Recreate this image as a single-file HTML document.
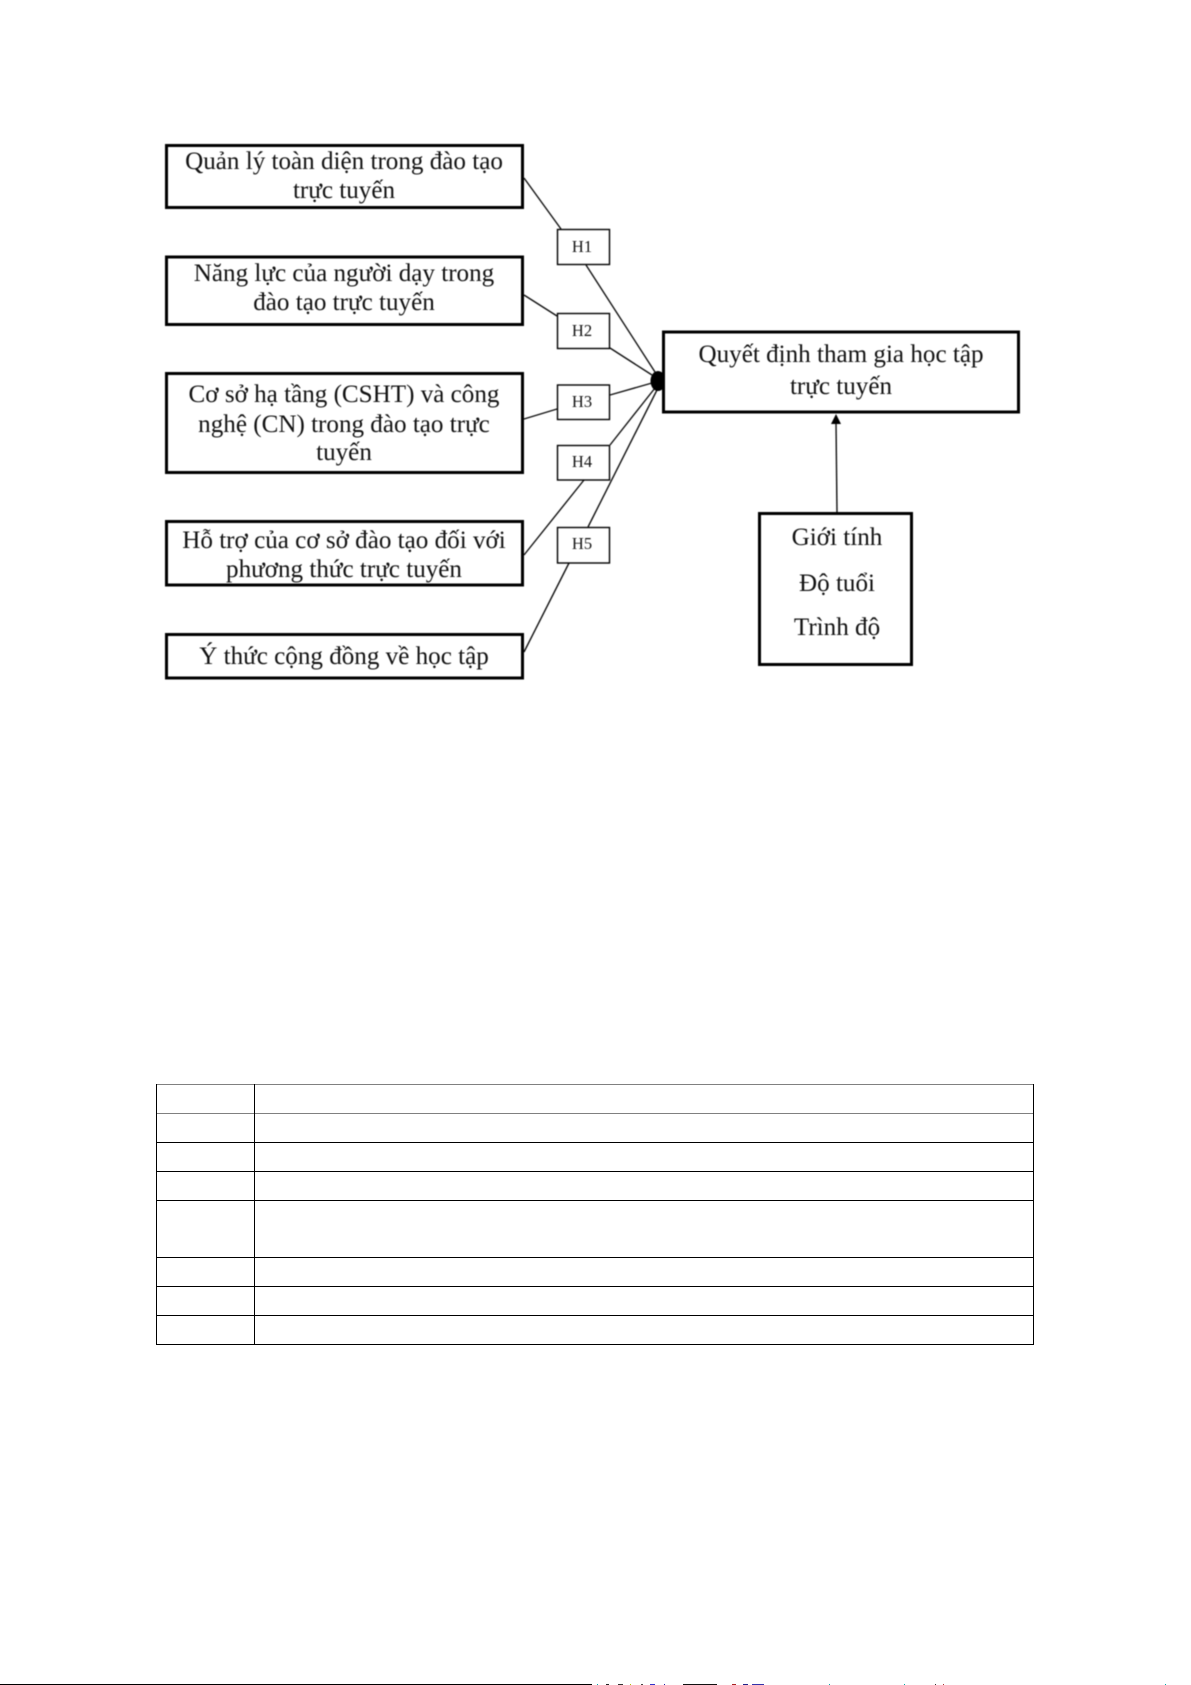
<!DOCTYPE html>
<html lang="vi">
<head>
<meta charset="utf-8">
<title>Mô hình nghiên cứu</title>
<style>
html,body{margin:0;padding:0;background:#fff;width:1191px;height:1685px;overflow:hidden}
svg{display:block;position:absolute;left:0;top:0}
.d{filter:blur(.65px)}
text{font-family:"Liberation Serif","Noto Serif CJK SC",serif;fill:#111;text-anchor:middle}
.t{font-size:25.1px}
.h{font-size:16.5px}
.b{fill:#fff;stroke:#000;stroke-width:3}
.s{fill:#fff;stroke:#000;stroke-width:1.4}
.l{stroke:#111;stroke-width:1.4;fill:none}
</style>
</head>
<body>
<svg width="1191" height="1685" viewBox="0 0 1191 1685" xmlns="http://www.w3.org/2000/svg">
<g class="d">
<line class="l" x1="524" y1="178" x2="561" y2="229"/>
<line class="l" x1="586" y1="265" x2="655" y2="372"/>
<line class="l" x1="524" y1="295" x2="557" y2="316"/>
<line class="l" x1="610" y1="348" x2="652" y2="375"/>
<line class="l" x1="524" y1="419" x2="557" y2="409"/>
<line class="l" x1="610" y1="395" x2="652" y2="383"/>
<line class="l" x1="610" y1="445" x2="655" y2="388"/>
<line class="l" x1="584" y1="480" x2="524" y2="555"/>
<line class="l" x1="588" y1="527" x2="657" y2="390"/>
<line class="l" x1="569" y1="563" x2="524" y2="652"/>
<line class="l" x1="837" y1="512" x2="836" y2="422"/>
<polygon points="836,414 831,424 841,424" fill="#000"/>
<ellipse cx="658" cy="381" rx="7.5" ry="10" fill="#000"/>

<rect class="b" x="166.500" y="145.500" width="356" height="62"/>
<rect class="b" x="166.500" y="257" width="356" height="67.500"/>
<rect class="b" x="166.500" y="373.500" width="356" height="99"/>
<rect class="b" x="166.500" y="521.500" width="356" height="63.500"/>
<rect class="b" x="166.500" y="634.500" width="356" height="43.500"/>
<rect class="b" x="663.500" y="332" width="355" height="80"/>
<rect class="b" x="759.500" y="513.500" width="152" height="151"/>

<rect class="s" x="557.500" y="229.500" width="52" height="35"/>
<rect class="s" x="557.500" y="313.500" width="52" height="35"/>
<rect class="s" x="557.500" y="385" width="52" height="34.500"/>
<rect class="s" x="557.500" y="445.500" width="52" height="34.500"/>
<rect class="s" x="557.500" y="527.500" width="52" height="35.500"/>

<text class="t" x="344" y="169">Quản lý toàn diện trong đào tạo</text>
<text class="t" x="344" y="198">trực tuyến</text>
<text class="t" x="344" y="281">Năng lực của người dạy trong</text>
<text class="t" x="344" y="310">đào tạo trực tuyến</text>
<text class="t" x="344" y="402">Cơ sở hạ tầng (CSHT) và công</text>
<text class="t" x="344" y="432">nghệ (CN) trong đào tạo trực</text>
<text class="t" x="344" y="460">tuyến</text>
<text class="t" x="344" y="548">Hỗ trợ của cơ sở đào tạo đối với</text>
<text class="t" x="344" y="577">phương thức trực tuyến</text>
<text class="t" x="344" y="664">Ý thức cộng đồng về học tập</text>
<text class="t" x="841" y="362">Quyết định tham gia học tập</text>
<text class="t" x="841" y="394">trực tuyến</text>
<text class="t" x="837" y="545">Giới tính</text>
<text class="t" x="837" y="591">Độ tuổi</text>
<text class="t" x="837" y="635">Trình độ</text>

<text class="h" x="582" y="252">H1</text>
<text class="h" x="582" y="336">H2</text>
<text class="h" x="582" y="407">H3</text>
<text class="h" x="582" y="467">H4</text>
<text class="h" x="582" y="549">H5</text>
</g>

<g shape-rendering="crispEdges">
<rect x="156" y="1084" width="878" height="1" fill="#808080"/>
<rect x="156" y="1113" width="878" height="1" fill="#808080"/>
<rect x="156" y="1142" width="878" height="1" fill="#000"/>
<rect x="156" y="1171" width="878" height="1" fill="#000"/>
<rect x="156" y="1200" width="878" height="1" fill="#000"/>
<rect x="156" y="1257" width="878" height="1" fill="#000"/>
<rect x="156" y="1286" width="878" height="1" fill="#000"/>
<rect x="156" y="1315" width="878" height="1" fill="#000"/>
<rect x="156" y="1344" width="878" height="1" fill="#000"/>
<rect x="156" y="1084" width="1" height="261" fill="#000"/>
<rect x="254" y="1084" width="1" height="261" fill="#000"/>
<rect x="1033" y="1084" width="1" height="261" fill="#000"/>

<rect x="0" y="1684" width="592" height="1" fill="#000"/>
<rect x="597" y="1684" width="1" height="1" fill="#0aa"/>
<rect x="606" y="1684" width="3" height="1" fill="#222"/>
<rect x="618" y="1684" width="5" height="1" fill="#333"/>
<rect x="630" y="1684" width="1" height="1" fill="#bb0"/>
<rect x="641" y="1684" width="2" height="1" fill="#444"/>
<rect x="650" y="1684" width="5" height="1" fill="#33c"/>
<rect x="664" y="1684" width="1" height="1" fill="#22a"/>
<rect x="683" y="1684" width="34" height="1" fill="#111"/>
<rect x="732" y="1684" width="4" height="1" fill="#a22"/>
<rect x="743" y="1684" width="5" height="1" fill="#228"/>
<rect x="752" y="1684" width="12" height="1" fill="#33a"/>
<rect x="829" y="1684" width="1" height="1" fill="#0aa"/>
<rect x="904" y="1684" width="1" height="1" fill="#0aa"/>
<rect x="935" y="1684" width="1" height="1" fill="#333"/>
<rect x="943" y="1684" width="1" height="1" fill="#a33"/>
<rect x="1165" y="1684" width="1" height="1" fill="#0aa"/>
</g>
</svg>
</body>
</html>
